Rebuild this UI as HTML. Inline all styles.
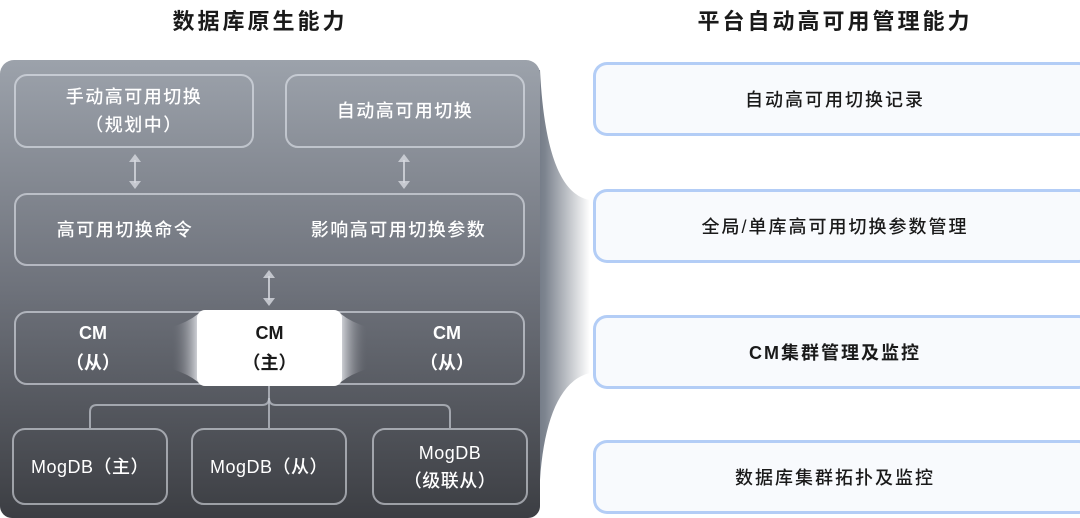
<!DOCTYPE html>
<html><head><meta charset="utf-8"><style>
*{margin:0;padding:0;box-sizing:border-box}
body{width:1080px;height:518px;background:#fff;position:relative;overflow:hidden;font-family:"Liberation Sans","Noto Sans CJK SC",sans-serif}
.t{position:absolute;font-weight:bold;font-size:22px;letter-spacing:3px;color:#1a1a1a;text-align:center;top:4px}
.panel{position:absolute;left:0;top:60px;width:540px;height:458px;border-radius:14px 14px 12px 12px;background:linear-gradient(#9ca2ab,#6e727b 50%,#3c3e43)}
.b{position:absolute;border:2px solid rgba(235,238,245,.55);border-radius:13px;color:#fff;font-size:18px;font-weight:500;letter-spacing:1.5px;display:flex;flex-direction:column;align-items:center;justify-content:center;line-height:28px;text-align:center}
.r{position:absolute;left:593px;width:500px;height:74px;border-radius:14px;border:3px solid #b3cdf6;border-right-color:#eef3fb;background:#f8fafd;display:flex;align-items:center;justify-content:center;font-size:18px;font-weight:500;letter-spacing:2px;color:#1a1a1a;padding-right:16px}
</style></head><body>
<div class="t" style="left:130px;width:260px">数据库原生能力</div>
<div class="t" style="left:680px;width:310px">平台自动高可用管理能力</div>

<svg style="position:absolute;left:530px;top:60px" width="70" height="440">
<defs><linearGradient id="g" x1="0" x2="1"><stop offset="0" stop-color="#6a717d"/><stop offset="0.25" stop-color="#7d848f"/><stop offset="1" stop-color="#fff"/></linearGradient></defs>
<path d="M0 10 L10 10 C14 90 30 135 60 140 L60 313 C30 320 14 360 10 420 L0 420 Z" fill="url(#g)"/>
</svg>
<div class="panel"></div>

<div class="b" style="left:14px;top:74px;width:240px;height:74px"><div>手动高可用切换</div><div>（规划中）</div></div>
<div class="b" style="left:285px;top:74px;width:240px;height:74px">自动高可用切换</div>
<div class="b" style="left:14px;top:193px;width:511px;height:73px;flex-direction:row;justify-content:space-around">
<span style="margin-left:-18px">高可用切换命令</span><span style="margin-right:-22px">影响高可用切换参数</span></div>

<svg style="position:absolute;left:0;top:0" width="540" height="518">
<g fill="rgba(215,218,224,.8)" stroke="rgba(215,218,224,.8)" stroke-width="2">
<line x1="135" y1="160" x2="135" y2="183"/><path d="M129 162 L135 154 L141 162Z" stroke="none"/><path d="M129 181 L135 189 L141 181Z" stroke="none"/>
<line x1="404" y1="160" x2="404" y2="183"/><path d="M398 162 L404 154 L410 162Z" stroke="none"/><path d="M398 181 L404 189 L410 181Z" stroke="none"/>
<line x1="269" y1="276" x2="269" y2="300"/><path d="M263 278 L269 270 L275 278Z" stroke="none"/><path d="M263 298 L269 306 L275 298Z" stroke="none"/>
</g>
<g fill="none" stroke="rgba(190,194,202,.75)" stroke-width="2">
<path d="M269 386 L269 398 Q269 405 262 405 L97 405 Q90 405 90 412 L90 428"/>
<path d="M269 398 Q269 405 276 405 L443 405 Q450 405 450 412 L450 428"/>
<line x1="269" y1="398" x2="269" y2="428"/>
</g>
<defs><linearGradient id="w1" x1="0" x2="1"><stop offset="0" stop-color="#6b6e76" stop-opacity="0"/><stop offset="1" stop-color="#d4d6db"/></linearGradient>
<linearGradient id="w2" x1="1" x2="0"><stop offset="0" stop-color="#6b6e76" stop-opacity="0"/><stop offset="1" stop-color="#d4d6db"/></linearGradient></defs>
<path d="M172 327 Q188 322 198 314 L198 382 Q188 374 172 369Z" fill="url(#w1)"/>
<path d="M367 327 Q351 322 341 314 L341 382 Q351 374 367 369Z" fill="url(#w2)"/>
</svg>

<div class="b" style="left:14px;top:311px;width:511px;height:74px"></div>
<div style="position:absolute;left:40px;top:318px;width:106px;text-align:center;color:#fff;font-size:18px;line-height:30px;font-weight:bold">CM<br>（从）</div>
<div style="position:absolute;left:394px;top:318px;width:106px;text-align:center;color:#fff;font-size:18px;line-height:30px;font-weight:bold">CM<br>（从）</div>
<div style="position:absolute;left:197px;top:310px;width:145px;height:76px;background:#fff;border-radius:8px;text-align:center;color:#1a1a1a;font-size:18px;line-height:30px;font-weight:bold;padding-top:8px">CM<br>（主）</div>

<div class="b" style="left:12px;top:428px;width:156px;height:77px;letter-spacing:0.5px">MogDB（主）</div>
<div class="b" style="left:191px;top:428px;width:156px;height:77px;letter-spacing:0.5px">MogDB（从）</div>
<div class="b" style="left:372px;top:428px;width:156px;height:77px;letter-spacing:0.5px"><div>MogDB</div><div>（级联从）</div></div>

<div class="r" style="top:62px">自动高可用切换记录</div>
<div class="r" style="top:189px">全局/单库高可用切换参数管理</div>
<div class="r" style="top:315px;font-weight:bold">CM集群管理及监控</div>
<div class="r" style="top:440px">数据库集群拓扑及监控</div>
</body></html>
